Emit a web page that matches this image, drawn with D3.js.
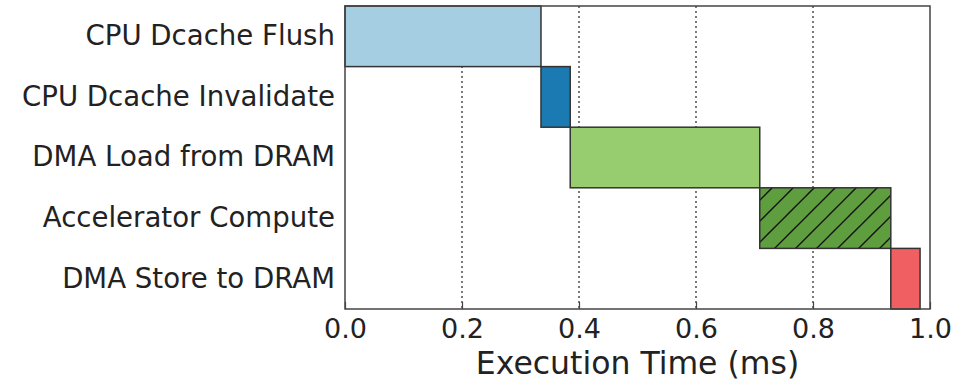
<!DOCTYPE html>
<meta charset="utf-8">
<style>
body { margin: 0; background: #fff; }
text { font-family: "DejaVu Sans", sans-serif; fill: #222; }
</style>
<body>
<script src="https://d3js.org/d3.v7.min.js"></script>
<script>

// Data: stages, start and end times (ms)
var stages = ["CPU Dcache Flush", "CPU Dcache Invalidate", "DMA Load from DRAM",
              "Accelerator Compute", "DMA Store to DRAM"];
var starts = [0.0, 0.335, 0.385, 0.709, 0.933];
var ends   = [0.335, 0.385, 0.709, 0.933, 0.983];
var colors = ["#a6cee3", "#1a7ab1", "#97cc6f", "#5f9e3e", "#f06062"];
var hatched = [false, false, false, true, false];
var xTicks = [0.0, 0.2, 0.4, 0.6, 0.8, 1.0];

var margin = {top: 6, right: 48, bottom: 73, left: 345},
    width = 978 - margin.left - margin.right,
    height = 382 - margin.top - margin.bottom;

var x = d3.scaleLinear().domain([0, 1]).range([0, width]);
var y = d3.scaleBand().domain(stages).range([0, height]).padding(0);

var svg = d3.select("body").append("svg")
    .attr("width", 978)
    .attr("height", 382);

// hatch pattern
var defs = svg.append("defs");
var pat = defs.append("pattern")
    .attr("id", "hatch")
    .attr("patternUnits", "userSpaceOnUse")
    .attr("width", 21).attr("height", 21);
pat.append("rect").attr("width", 21).attr("height", 21).attr("fill", colors[3]);
pat.append("path")
    .attr("d", "M-5,26 L26,-5 M-5,5 L5,-5 M16,26 L26,16")
    .attr("stroke", "#111").attr("stroke-width", 1.4);

var g = svg.append("g")
    .attr("transform", "translate(" + margin.left + "," + margin.top + ")");

// dotted grid
g.selectAll(".grid")
    .data(xTicks.slice(1, -1))
  .enter().append("line")
    .attr("x1", function(d) { return x(d); })
    .attr("x2", function(d) { return x(d); })
    .attr("y1", 0).attr("y2", height)
    .attr("stroke", "#222")
    .attr("stroke-width", 1.2)
    .attr("stroke-dasharray", "2,3");

// bars
g.selectAll(".bar")
    .data(stages)
  .enter().append("rect")
    .attr("x", function(d, i) { return x(starts[i]); })
    .attr("y", function(d) { return y(d); })
    .attr("width", function(d, i) { return x(ends[i]) - x(starts[i]); })
    .attr("height", y.bandwidth())
    .attr("fill", function(d, i) { return hatched[i] ? "url(#hatch)" : colors[i]; })
    .attr("stroke", "#333")
    .attr("stroke-width", 1.5);

// frame
g.append("rect")
    .attr("width", width).attr("height", height)
    .attr("fill", "none")
    .attr("stroke", "#444")
    .attr("stroke-width", 1.5);

// x axis
var xAxis = g.append("g")
    .attr("transform", "translate(0," + height + ")")
    .call(d3.axisBottom(x).tickValues(xTicks).tickFormat(d3.format(".1f"))
          .tickSizeInner(-7).tickSizeOuter(0).tickPadding(10));
xAxis.select(".domain").remove();
xAxis.selectAll("line").attr("stroke", "#444").attr("stroke-width", 1.2);
xAxis.selectAll("text").style("font-size", "27px").attr("fill", "#222");

// y axis labels
var yAxis = g.append("g")
    .call(d3.axisLeft(y).tickSize(0).tickPadding(10));
yAxis.select(".domain").remove();
yAxis.selectAll("text").style("font-size", "27.6px").attr("fill", "#222");

// x label
svg.append("text")
    .attr("x", margin.left + width / 2)
    .attr("y", 374)
    .attr("text-anchor", "middle")
    .style("font-size", "31.5px")
    .text("Execution Time (ms)");

</script>
</body>
